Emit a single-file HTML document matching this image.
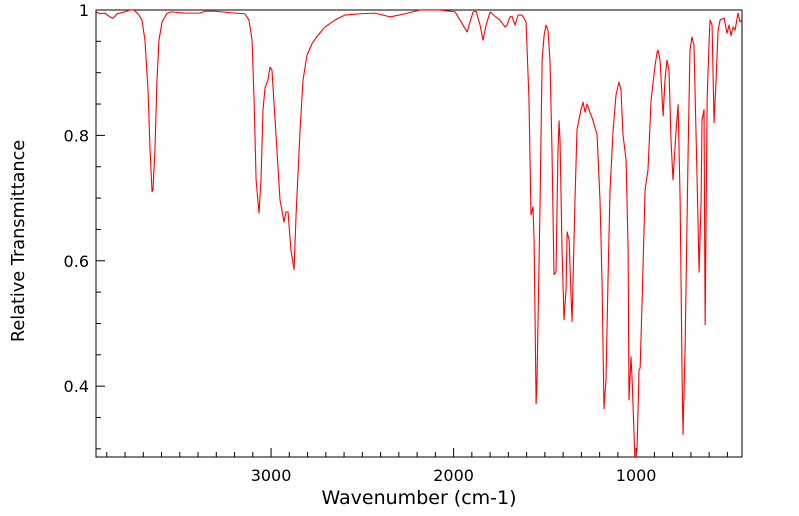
<!DOCTYPE html>
<html><head><meta charset="utf-8"><style>
html,body{margin:0;padding:0;background:#fff;}
svg{display:block;font-family:"DejaVu Sans","Liberation Sans",sans-serif;}
</style></head><body>
<svg id="chart" width="799" height="516" viewBox="0 0 799 516" xmlns="http://www.w3.org/2000/svg">
<defs><clipPath id="clip"><rect x="96" y="10" width="646" height="447"/></clipPath></defs>
<rect x="96" y="10" width="646" height="447" fill="#fff" stroke="#000" stroke-width="1"/>
<g id="ticks"></g>
<path id="spectrum" clip-path="url(#clip)" fill="none" stroke="#ff0000" stroke-width="1.1" stroke-linejoin="round"/>
<text x="419" y="504" text-anchor="middle" font-size="19">Wavenumber (cm-1)</text>
<text transform="translate(24,241) rotate(-90)" text-anchor="middle" font-size="17.7">Relative Transmittance</text>
</svg>
<script>
const wavenumbers=[3959,3937,3910,3882,3866,3844,3800,3773,3751,3729,3707,3691,3674,3663,3652,3647,3636,3625,3614,3597,3570,3543,3471,3389,3362,3307,3197,3143,3121,3104,3093,3082,3066,3055,3044,3033,3017,3006,2995,2978,2951,2929,2918,2907,2891,2874,2863,2841,2825,2803,2776,2743,2704,2650,2595,2513,2430,2348,2266,2184,2074,1992,1965,1926,1910,1893,1877,1855,1839,1822,1800,1773,1746,1718,1707,1691,1680,1663,1647,1625,1603,1587,1576,1565,1559,1548,1543,1526,1515,1504,1494,1483,1472,1461,1450,1439,1428,1422,1417,1406,1395,1384,1378,1367,1356,1351,1335,1324,1313,1302,1291,1280,1269,1252,1241,1214,1198,1187,1176,1165,1154,1143,1126,1110,1094,1083,1072,1055,1044,1039,1028,1022,1006,995,984,978,967,951,935,918,896,885,880,869,852,842,831,820,809,798,781,770,759,748,743,732,715,705,694,683,666,655,644,639,628,622,611,600,595,584,573,562,551,540,518,502,491,480,469,458,442,431,420];
const transmittance=[0.997,0.994,0.995,0.989,0.987,0.994,0.997,1.0,1.0,0.994,0.984,0.952,0.873,0.777,0.710,0.713,0.777,0.888,0.952,0.981,0.995,0.997,0.995,0.995,0.998,0.998,0.995,0.994,0.984,0.952,0.857,0.729,0.676,0.729,0.841,0.876,0.888,0.909,0.904,0.825,0.697,0.662,0.678,0.678,0.617,0.586,0.673,0.809,0.888,0.928,0.946,0.960,0.973,0.984,0.992,0.994,0.995,0.989,0.994,1.0,1.0,0.997,0.984,0.965,0.981,0.997,0.998,0.976,0.952,0.976,0.997,0.990,0.984,0.973,0.976,0.989,0.990,0.976,0.992,0.992,0.981,0.857,0.673,0.686,0.633,0.372,0.410,0.697,0.920,0.960,0.976,0.968,0.920,0.777,0.578,0.582,0.777,0.823,0.793,0.617,0.506,0.554,0.646,0.633,0.538,0.503,0.697,0.809,0.825,0.841,0.853,0.837,0.850,0.836,0.828,0.801,0.697,0.570,0.364,0.410,0.570,0.713,0.809,0.865,0.885,0.873,0.801,0.761,0.617,0.378,0.447,0.410,0.280,0.299,0.426,0.429,0.538,0.713,0.745,0.857,0.912,0.933,0.936,0.920,0.831,0.888,0.920,0.904,0.793,0.729,0.809,0.849,0.697,0.410,0.323,0.458,0.777,0.936,0.957,0.944,0.729,0.582,0.697,0.825,0.841,0.498,0.857,0.952,0.984,0.976,0.820,0.888,0.968,0.984,0.987,0.963,0.976,0.959,0.973,0.968,0.995,0.981,0.984];
const xTickLabels=[3000,2000,1000];
const yTickLabels=[1,0.8,0.6,0.4];
const X0=96,X1=742,Y0=10,Y1=457;
const wnMax=3959,wnMin=420,tMin=0.287,tMax=1.0;
function xs(w){return X0+(wnMax-w)/(wnMax-wnMin)*(X1-X0);}
function ys(t){return Y0+(tMax-t)/(tMax-tMin)*(Y1-Y0);}
const NS="http://www.w3.org/2000/svg";
let d="";
wavenumbers.forEach((w,i)=>{d+=(i?"L":"M")+xs(w).toFixed(2)+","+ys(transmittance[i]).toFixed(2);});
document.getElementById("spectrum").setAttribute("d",d);
const g=document.getElementById("ticks");
function line(x1,y1,x2,y2){const l=document.createElementNS(NS,"line");l.setAttribute("x1",x1);l.setAttribute("y1",y1);l.setAttribute("x2",x2);l.setAttribute("y2",y2);l.setAttribute("stroke","#000");l.setAttribute("stroke-width","1");


g.appendChild(l);}
function txt(x,y,s,anchor){const t=document.createElementNS(NS,"text");t.setAttribute("x",x);t.setAttribute("y",y);t.setAttribute("text-anchor",anchor);t.setAttribute("font-size","16");t.textContent=s;


g.appendChild(t);}
for(let w=3900;w>=500;w-=100){const x=xs(w);const major=xTickLabels.includes(w);line(x,Y1,x,Y1-(major?9:5));}
xTickLabels.forEach(w=>txt(xs(w),481,String(w),"middle"));
for(let k=0;k<=14;k++){const t=+(1-k*0.05).toFixed(2);if(t<tMin)break;const y=ys(t);const major=yTickLabels.includes(t);line(X0,y,X0+(major?9:5),y);}
yTickLabels.forEach(t=>txt(89,ys(t)+6,String(t),"end"));
</script>
</body></html>
